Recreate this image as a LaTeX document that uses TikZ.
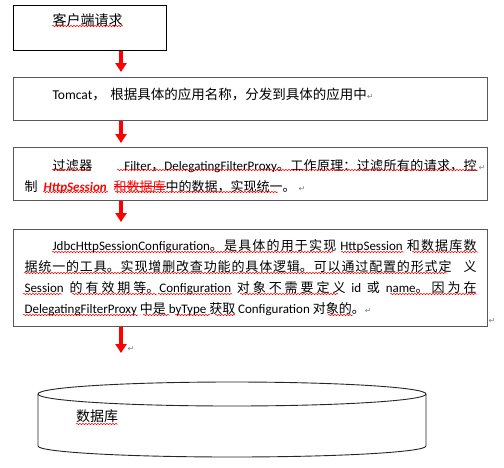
\documentclass[tikz,border=0pt]{standalone}
\usepackage{fontspec}
\setmainfont{Noto Sans CJK SC}
\newfontfamily\latin{Carlito}
\newfontfamily\symfont{DejaVu Sans}
\usetikzlibrary{arrows.meta,decorations.pathmorphing}
\XeTeXlinebreaklocale "zh"
\XeTeXlinebreakskip=0pt plus 1.5pt minus 0.5pt
\newcommand{\en}[1]{{\latin #1}}
\newcommand{\ret}{{\symfont\fontsize{8}{8}\selectfont\color{gray}↵}}
\newcommand{\strike}[1]{\setbox0\hbox{#1}\rlap{\rule[0.32em]{\wd0}{0.6pt}}\box0}

\begin{document}
\begin{tikzpicture}[x=1pt, y=-1pt,
    box/.style={draw=black!65, line width=1.1pt, anchor=north west,
      inner xsep=11pt, inner ysep=0pt, text width=452pt,
      font=\fontsize{13}{21}\selectfont},
    flow/.style={draw=red, line width=3.5pt, -{Triangle[width=11pt,length=9pt]}},
    spell/.style={red, line width=0.5pt, decorate,
      decoration={snake, amplitude=0.7pt, segment length=3pt}},
    retmark/.style={inner sep=0pt},
    dbline/.style={draw=black!85, line width=0.9pt}
  ]
  \useasboundingbox (0,0) rectangle (504,467);

  % Boxes (top to bottom)
  \node[box, draw=black, text width=131pt, text height=20pt, text depth=25pt,
        font=\fontsize{14}{14}\selectfont] (req) at (13,5)
        {\hspace*{28pt}客户端请求};
  \node[box, text height=22pt, text depth=21pt,
        font=\fontsize{13.5}{14}\selectfont] (tomcat) at (13,77)
        {\hspace*{28pt}\en{Tomcat}， 根据具体的应用名称，分发到具体的应用中\ret};
  \node[box, align=justify, minimum height=53pt] (filter) at (13,147)
        {\rule{0pt}{15pt}\hspace*{28pt}过滤器\hspace{32pt}\en{Filter}，\en{DelegatingFilterProxy}。工作原理：过滤所有的请求，控\rlap{\,\ret}\linebreak
         制\hspace{6pt}{\color{red}\latin\bfseries\itshape HttpSession}\hspace{7pt}{\color{red}\strike{和数据库}}中的数据，实现统一。\ \ret};
  \node[box, align=justify, minimum height=97pt] (jdbc) at (13,229)
        {\hspace*{28pt}\en{JdbcHttpSessionConfiguration}。是具体的用于实现 \en{HttpSession} 和数据库数\linebreak
         据统一的工具。实现增删改查功能的具体逻辑。可以通过配置的形式定\hspace{12pt}义\linebreak
         \en{Session} 的有效期等。\en{Configuration} 对象不需要定义 \en{id} 或 \en{name}。因为在\linebreak
         \en{DelegatingFilterProxy} 中是 \en{byType} 获取 \en{Configuration} 对象的。\ret};
  \node[retmark] (jdbcret) at (492,321) {\ret};

  % Arrows
  \coordinate (ax) at (121,0);
  \coordinate (tail) at (121,353);
  \draw[flow, shorten >=5pt] (req.south -| ax) -- (tomcat.north -| ax);
  \draw[flow, shorten >=4pt] (tomcat.south -| ax) -- (filter.north -| ax);
  \draw[flow, shorten >=7pt] (filter.south -| ax) -- (jdbc.north -| ax);
  \draw[flow] (jdbc.south -| ax) -- (tail);
  \node[retmark] (tailret) at (131,349) {\ret};

  % Database
  \draw[dbline] (232,394) ellipse [x radius=194, y radius=12];
  \draw[dbline] (38,394) -- (38,446)
    arc[start angle=180, end angle=0, x radius=194, y radius=11] -- (426,394);
  \node[anchor=base west, inner sep=0pt, font=\fontsize{14}{14}\selectfont] (db) at (76,421) {数据库};

  % Spelling marks
  \foreach \xa/\xb/\yy in {52/123/26, 52/90/170, 117/478/170, 43/108/192, 115/278/192,
      52/333/252, 341/404/252, 412/478/252, 24/447/273,
      23/62/294, 72/157/294, 158/232/294, 240/338/294, 390/477/294,
      23/138/315, 143/170/315, 175/210/315, 215/235/315, 328/353/315, 76/118/424}
    \draw[spell] (\xa,\yy) -- (\xb,\yy);
\end{tikzpicture}
\end{document}
